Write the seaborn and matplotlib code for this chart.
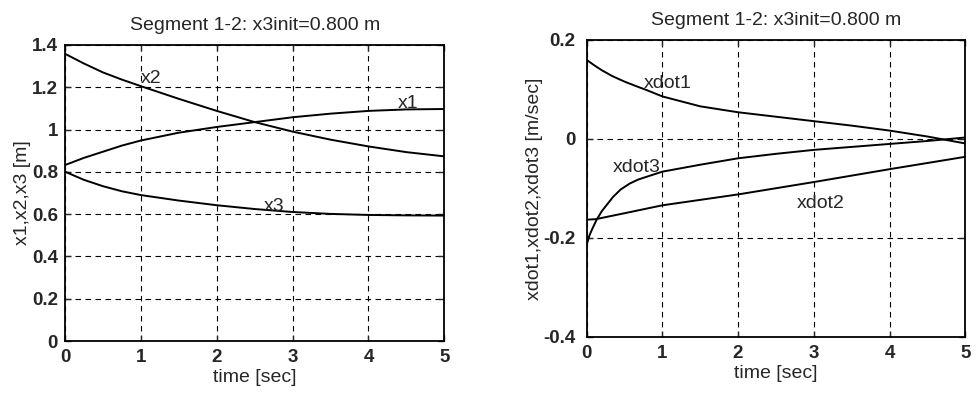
import matplotlib
matplotlib.use("Agg")
import matplotlib.pyplot as plt
import seaborn as sns

# Values
t_x1 = [0, 0.25, 0.5, 0.75, 1, 1.5, 2, 2.5, 3, 3.5, 4, 4.5, 5]
x1 = [0.832, 0.866, 0.895, 0.924, 0.948, 0.985, 1.012, 1.035, 1.058, 1.075, 1.088, 1.095, 1.097]
t_x2 = [0, 0.25, 0.5, 0.75, 1, 1.5, 2, 2.5, 3, 3.5, 4, 4.5, 5]
x2 = [1.358, 1.312, 1.270, 1.236, 1.205, 1.145, 1.088, 1.035, 0.990, 0.952, 0.920, 0.893, 0.873]
t_x3 = [0, 0.1, 0.25, 0.5, 0.75, 1, 1.5, 2, 2.5, 3, 3.5, 4, 4.5, 5]
x3 = [0.801, 0.785, 0.762, 0.732, 0.708, 0.690, 0.664, 0.642, 0.624, 0.610, 0.601, 0.596, 0.594, 0.593]

t_v1 = [0, 0.1, 0.2, 0.34, 0.5, 0.65, 0.79, 1, 1.5, 2, 2.5, 3, 3.5, 4, 4.5, 5]
xdot1 = [0.160, 0.149, 0.139, 0.127, 0.116, 0.107, 0.099, 0.086, 0.066, 0.054, 0.045, 0.036,
         0.027, 0.017, 0.005, -0.009]
t_v2 = [0, 0.12, 0.5, 1, 1.5, 2, 3, 4, 5]
xdot2 = [-0.163, -0.162, -0.150, -0.134, -0.123, -0.112, -0.087, -0.061, -0.036]
t_v3 = [0, 0.04, 0.08, 0.13, 0.2, 0.35, 0.45, 0.57, 0.68, 0.8, 1, 1.5, 2, 2.5, 3, 3.5, 4, 4.5, 5]
xdot3 = [-0.214, -0.194, -0.180, -0.164, -0.146, -0.117, -0.102, -0.090, -0.082, -0.076, -0.066,
         -0.052, -0.039, -0.030, -0.022, -0.016, -0.010, -0.004, 0.003]

title = "Segment 1-2: x3init=0.800 m"

sns.set_style("white")
plt.rcParams['font.family'] = ['Liberation Sans', 'DejaVu Sans']

fig = plt.figure(figsize=(9.76, 3.94), dpi=100)
ax1 = fig.add_axes([0.0666, 0.1345, 0.3887, 0.7515])
ax2 = fig.add_axes([0.601, 0.1447, 0.388, 0.7538])

line_kw = dict(color='black', linewidth=1.4)
for t, y in [(t_x1, x1), (t_x2, x2), (t_x3, x3)]:
    sns.lineplot(x=t, y=y, ax=ax1, **line_kw)
for t, y in [(t_v1, xdot1), (t_v2, xdot2), (t_v3, xdot3)]:
    sns.lineplot(x=t, y=y, ax=ax2, **line_kw)

ax1.set_xlim(0, 5)
ax1.set_ylim(0, 1.4)
ax1.set_yticks([0, 0.2, 0.4, 0.6, 0.8, 1.0, 1.2, 1.4])
ax1.set_yticklabels(["0", "0.2", "0.4", "0.6", "0.8", "1", "1.2", "1.4"])
ax1.set_ylabel("x1,x2,x3 [m]", fontsize=14, labelpad=1)

ax2.set_xlim(0, 5)
ax2.set_ylim(-0.4, 0.2)
ax2.set_yticks([-0.4, -0.2, 0, 0.2])
ax2.set_yticklabels(["-0.4", "-0.2", "0", "0.2"])
ax2.set_ylabel("xdot1,xdot2,xdot3 [m/sec]", fontsize=14, labelpad=0)

ax1.text(1.0, 1.22, "x2", fontsize=14)
ax1.text(4.38, 1.10, "x1", fontsize=14)
ax1.text(2.62, 0.615, "x3", fontsize=14)
ax2.text(0.75, 0.103, "xdot1", fontsize=14)
ax2.text(0.34, -0.067, "xdot3", fontsize=14)
ax2.text(2.78, -0.139, "xdot2", fontsize=14)

for ax in (ax1, ax2):
    ax.set_xticks([0, 1, 2, 3, 4, 5])
    ax.set_xticklabels(["0", "1", "2", "3", "4", "5"])
    ax.set_xlabel("time [sec]", fontsize=14, labelpad=2)
    ax.set_title(title, fontsize=14, pad=11)
    ax.grid(True, color='black', linestyle=(0, (5, 4)), linewidth=0.8)
    ax.tick_params(axis='x', pad=6)
    ax.tick_params(direction='in', length=4, width=1, labelsize=13.5,
                   left=True, bottom=True, top=True, right=True)
    for lbl in ax.get_xticklabels() + ax.get_yticklabels():
        lbl.set_fontweight('bold')
    for s in ax.spines.values():
        s.set_color('black')
        s.set_linewidth(1.3)

ax1.tick_params(axis='y', pad=5)
ax2.tick_params(axis='y', pad=8)

fig.savefig("out.png", dpi=100)
